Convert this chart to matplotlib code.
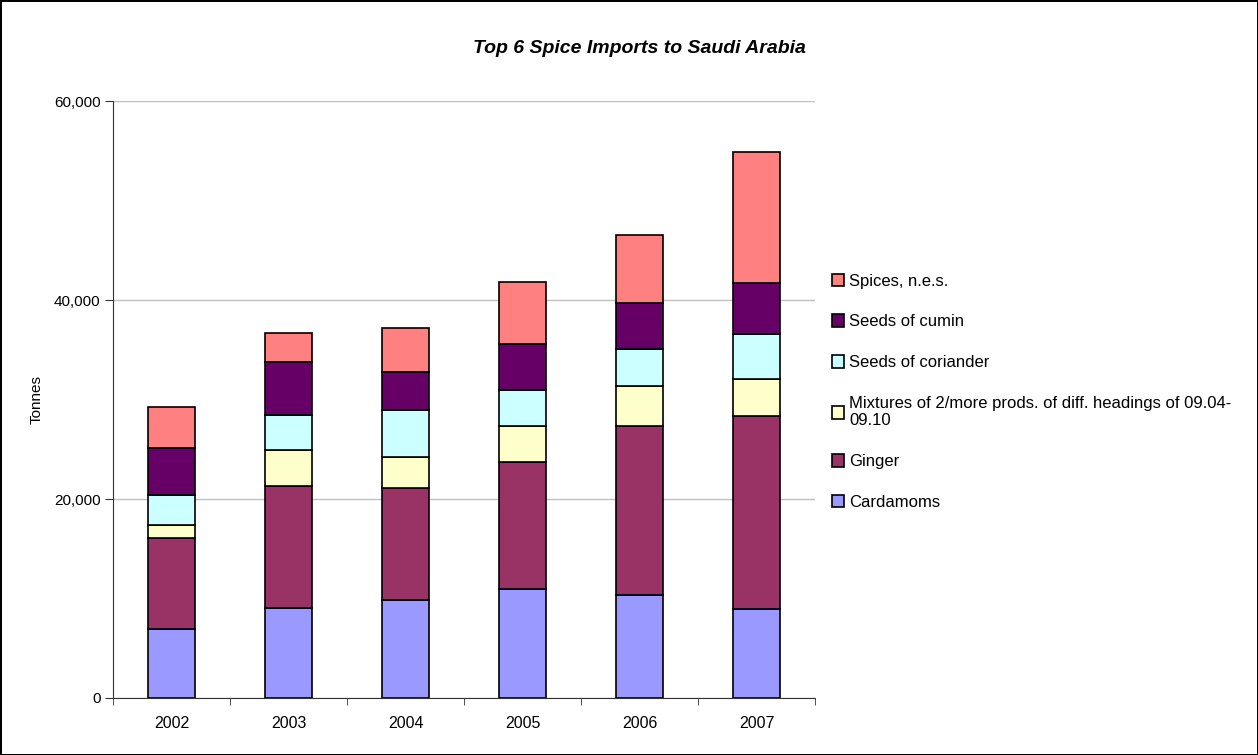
import matplotlib
matplotlib.use('Agg')
import matplotlib.pyplot as plt
from matplotlib.ticker import FuncFormatter

plt.rcParams['font.family'] = ['Liberation Sans', 'DejaVu Sans']

years = ['2002', '2003', '2004', '2005', '2006', '2007']

# tonnes
cardamoms = [6930, 9010, 9880, 10950, 10320, 8950]
ginger = [9150, 12290, 11220, 12740, 16970, 19350]
mixtures = [1310, 3620, 3120, 3600, 4090, 3780]
coriander = [3010, 3550, 4760, 3680, 3710, 4500]
cumin = [4730, 5300, 3780, 4570, 4570, 5080]
spices_nes = [4120, 2910, 4430, 6230, 6900, 13260]

series = [
    ('Cardamoms', cardamoms, '#9999FF'),
    ('Ginger', ginger, '#993366'),
    ('Mixtures of 2/more prods. of diff. headings of 09.04-\n09.10', mixtures, '#FFFFCC'),
    ('Seeds of coriander', coriander, '#CCFFFF'),
    ('Seeds of cumin', cumin, '#660066'),
    ('Spices, n.e.s.', spices_nes, '#FF8080'),
]

fig = plt.figure(figsize=(12.58, 7.55), dpi=100, edgecolor='black', linewidth=2)
ax = fig.add_axes([0.0898, 0.0755, 0.5583, 0.7907])

x = range(len(years))
bottom = [0] * len(years)
handles = []
for name, vals, col in series:
    b = ax.bar(x, vals, 0.4, bottom=bottom, color=col, edgecolor='black',
               linewidth=1.2, label=name, zorder=3)
    handles.append(b)
    bottom = [a + v for a, v in zip(bottom, vals)]

ax.set_ylim(0, 60000)
ax.set_xlim(-0.5, len(years) - 0.5)
ax.set_yticks([0, 20000, 40000, 60000])
ax.yaxis.set_major_formatter(FuncFormatter(lambda v, p: f'{int(v):,}'))
ax.set_xticks(list(x))
ax.set_xticklabels(years)
ax.set_xticks([i - 0.5 for i in range(len(years) + 1)], minor=True)
ax.tick_params(axis='x', which='major', length=0, labelsize=11.5, pad=13)
ax.tick_params(axis='x', which='minor', length=5, direction='out', color='#333333')
ax.tick_params(axis='y', length=6, direction='out', labelsize=11, pad=3, color='#333333')
ax.grid(axis='y', color='#c0c0c0', linewidth=1, zorder=0)
ax.spines['top'].set_visible(False)
ax.spines['right'].set_visible(False)
ax.spines['left'].set_color('#333333')
ax.spines['bottom'].set_color('#333333')

ax.set_ylabel('Tonnes', fontsize=11, labelpad=7)
fig.text(0.508, 0.936, 'Top 6 Spice Imports to Saudi Arabia', ha='center', va='center',
         fontsize=14, fontweight='bold', fontstyle='italic')

leg = fig.legend(handles[::-1], [s[0] for s in series][::-1], loc='center left',
                 bbox_to_anchor=(0.661, 0.481), frameon=False, fontsize=12,
                 labelspacing=1.55, handlelength=0.75, handleheight=0.75,
                 handletextpad=0.3, borderpad=0, borderaxespad=0)

fig.savefig('out.png', dpi=100)
